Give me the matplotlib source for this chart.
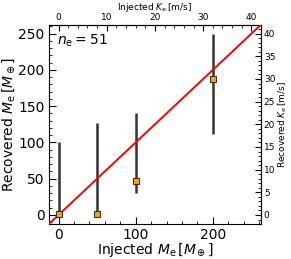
import matplotlib
matplotlib.use("Agg")
import matplotlib.pyplot as plt
from matplotlib.ticker import MultipleLocator

injected = [0, 50, 100, 200]
recovered = [2, 2, 47, 188]
err_low = [1, 1, 30, 112]
err_high = [100, 127, 140, 250]
n_e = 51
conv = 0.16  # M_e -> K_e [m/s]
lims = (-12.5, 262.5)
top_ticks = [0, 10, 20, 30, 40]
right_ticks = [0, 5, 10, 15, 20, 25, 30, 35, 40]

fig = plt.figure(figsize=(2.91, 2.59), dpi=100)
ax = fig.add_axes([0.168, 0.135, 0.729, 0.770])

yerr = [[r - lo for r, lo in zip(recovered, err_low)],
        [hi - r for r, hi in zip(recovered, err_high)]]
ax.errorbar(injected, recovered, yerr=yerr, fmt='none', ecolor='#333333',
            elinewidth=1.8, capsize=0, zorder=2)
ax.plot(lims, lims, color='red', lw=1.4, zorder=3)
ax.plot(injected, recovered, 's', ms=5, mfc='orange', mec='#333333', mew=0.8, zorder=4)

ax.set_xlim(lims)
ax.set_ylim(lims)
ax.xaxis.set_major_locator(MultipleLocator(100))
ax.xaxis.set_minor_locator(MultipleLocator(20))
ax.yaxis.set_major_locator(MultipleLocator(50))
ax.yaxis.set_minor_locator(MultipleLocator(10))
ax.tick_params(which='both', direction='in', labelsize=10, pad=3)
ax.tick_params(which='major', length=5)
ax.tick_params(which='minor', length=2.5)
ax.set_xlabel(r'Injected $M_{\rm e}\,[M_\oplus]$', fontsize=10, labelpad=-0.5)
ax.set_ylabel(r'Recovered $M_{\rm e}\,[M_\oplus]$', fontsize=10, labelpad=1)
ax.text(0.04, 0.96, r'$n_{\rm e} = %d$' % n_e, transform=ax.transAxes,
        fontsize=10, va='top', ha='left')

top = ax.secondary_xaxis('top', functions=(lambda m: m * conv, lambda k: k / conv))
top.set_xticks(top_ticks)
top.xaxis.set_minor_locator(MultipleLocator(2))
top.tick_params(which='both', direction='in', labelsize=6.5, pad=2)
top.tick_params(which='major', length=4)
top.tick_params(which='minor', length=2)
top.set_xlabel(r'Injected $K_{\rm e}\,[{\rm m/s}]$', fontsize=6.5, labelpad=2)

right = ax.secondary_yaxis('right', functions=(lambda m: m * conv, lambda k: k / conv))
right.set_yticks(right_ticks)
right.yaxis.set_minor_locator(MultipleLocator(1))
right.tick_params(which='both', direction='in', labelsize=6.5, pad=2)
right.tick_params(which='major', length=4)
right.tick_params(which='minor', length=2)
right.set_ylabel(r'Recovered $K_{\rm e}\,[{\rm m/s}]$', fontsize=6.5, labelpad=1)

fig.savefig('out.png', dpi=100)
